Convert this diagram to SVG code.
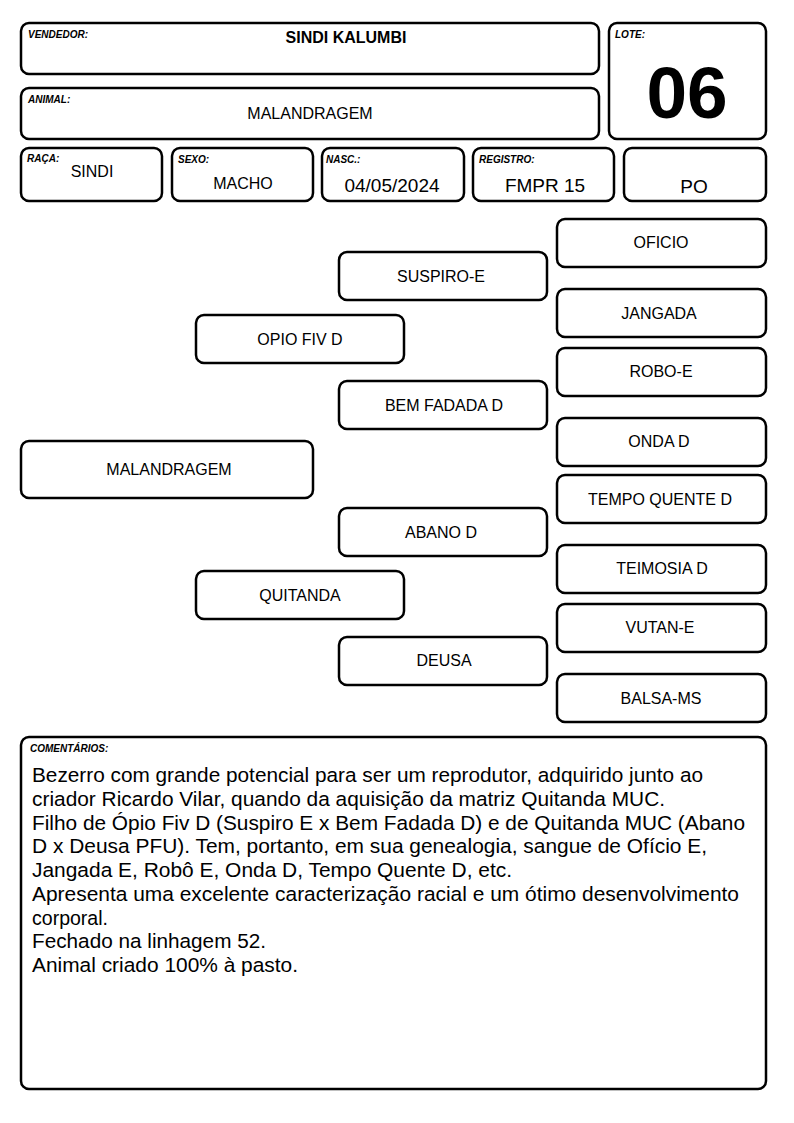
<svg xmlns="http://www.w3.org/2000/svg" width="794" height="1123" viewBox="0 0 794 1123">
<style>
.b{fill:#fff;stroke:#000;stroke-width:2.5}
.lb{font-family:"Liberation Sans",Arial,sans-serif;font-size:10px;font-weight:bold;font-style:italic}
.t{font-family:"Liberation Sans",Arial,sans-serif;font-size:16px;text-anchor:middle}
.m{font-family:"Liberation Sans",Arial,sans-serif;font-size:19px;text-anchor:middle}
.c{font-family:"Liberation Sans",Arial,sans-serif;font-size:20.5px}
</style>
<rect width="794" height="1123" fill="#fff"/>
<g id="vendedor"><rect class="b" x="21" y="23" width="578" height="51" rx="8"/><text class="lb" x="28" y="38">VENDEDOR:</text><text class="t" x="346" y="43" font-weight="bold">SINDI KALUMBI</text></g>
<g id="lote"><rect class="b" x="609" y="23" width="157" height="116" rx="8"/><text class="lb" x="615" y="38">LOTE:</text><text x="687" y="118" font-family="Liberation Sans,Arial,sans-serif" font-size="73" font-weight="bold" text-anchor="middle">06</text></g>
<g id="animal"><rect class="b" x="21" y="88" width="578" height="51" rx="8"/><text class="lb" x="28" y="103">ANIMAL:</text><text class="t" x="310" y="119">MALANDRAGEM</text></g>
<g id="raca"><rect class="b" x="21" y="148" width="141" height="53" rx="8"/><text class="lb" x="27" y="162">RAÇA:</text><text class="t" x="92" y="177" font-size="14">SINDI</text></g>
<g id="sexo"><rect class="b" x="172" y="148" width="141" height="53" rx="8"/><text class="lb" x="178" y="163">SEXO:</text><text class="t" x="243" y="189" font-size="14">MACHO</text></g>
<g id="nasc"><rect class="b" x="322" y="148" width="142" height="53" rx="8"/><text class="lb" x="326" y="163">NASC.:</text><text class="m" x="392" y="192">04/05/2024</text></g>
<g id="registro"><rect class="b" x="473" y="148" width="141" height="53" rx="8"/><text class="lb" x="479" y="163">REGISTRO:</text><text class="m" x="545" y="192">FMPR 15</text></g>
<g id="po"><rect class="b" x="624" y="148" width="142" height="53" rx="8"/><text class="m" x="694" y="193">PO</text></g>

<g id="n-malandragem"><rect class="b" x="21" y="441" width="292" height="57" rx="8"/><text class="t" x="169" y="475">MALANDRAGEM</text></g>
<g id="n-opio"><rect class="b" x="196" y="315" width="208" height="48" rx="8"/><text class="t" x="300" y="345">OPIO FIV D</text></g>
<g id="n-quitanda"><rect class="b" x="196" y="571" width="208" height="48" rx="8"/><text class="t" x="300" y="601">QUITANDA</text></g>
<g id="n-suspiro"><rect class="b" x="339" y="252" width="208" height="48" rx="8"/><text class="t" x="441" y="282">SUSPIRO-E</text></g>
<g id="n-bemfadada"><rect class="b" x="339" y="381" width="208" height="48" rx="8"/><text class="t" x="444" y="411">BEM FADADA D</text></g>
<g id="n-abano"><rect class="b" x="339" y="508" width="208" height="48" rx="8"/><text class="t" x="441" y="538">ABANO D</text></g>
<g id="n-deusa"><rect class="b" x="339" y="637" width="208" height="48" rx="8"/><text class="t" x="444" y="666">DEUSA</text></g>
<g id="n-oficio"><rect class="b" x="557" y="219" width="209" height="48" rx="8"/><text class="t" x="661" y="248">OFICIO</text></g>
<g id="n-jangada"><rect class="b" x="557" y="289" width="209" height="48" rx="8"/><text class="t" x="659" y="319">JANGADA</text></g>
<g id="n-robo"><rect class="b" x="557" y="348" width="209" height="48" rx="8"/><text class="t" x="661" y="377">ROBO-E</text></g>
<g id="n-onda"><rect class="b" x="557" y="418" width="209" height="48" rx="8"/><text class="t" x="659" y="447">ONDA D</text></g>
<g id="n-tempo"><rect class="b" x="557" y="475" width="209" height="48" rx="8"/><text class="t" x="660" y="505">TEMPO QUENTE D</text></g>
<g id="n-teimosia"><rect class="b" x="557" y="545" width="209" height="48" rx="8"/><text class="t" x="662" y="574">TEIMOSIA D</text></g>
<g id="n-vutan"><rect class="b" x="557" y="604" width="209" height="48" rx="8"/><text class="t" x="660" y="633">VUTAN-E</text></g>
<g id="n-balsa"><rect class="b" x="557" y="674" width="209" height="48" rx="8"/><text class="t" x="661" y="704">BALSA-MS</text></g>
<g id="connectors"></g>

<g id="comentarios"><rect class="b" x="21" y="737" width="745" height="352" rx="8"/><text class="lb" x="30" y="752">COMENTÁRIOS:</text>
<text class="c" x="32" y="782" textLength="671" lengthAdjust="spacingAndGlyphs">Bezerro com grande potencial para ser um reprodutor, adquirido junto ao</text>
<text class="c" x="32" y="806" textLength="633" lengthAdjust="spacingAndGlyphs">criador Ricardo Vilar, quando da aquisição da matriz Quitanda MUC.</text>
<text class="c" x="32" y="830" textLength="713" lengthAdjust="spacingAndGlyphs">Filho de Ópio Fiv D (Suspiro E x Bem Fadada D) e de Quitanda MUC (Abano</text>
<text class="c" x="32" y="853" textLength="675" lengthAdjust="spacingAndGlyphs">D x Deusa PFU). Tem, portanto, em sua genealogia, sangue de Ofício E,</text>
<text class="c" x="32" y="877" textLength="480" lengthAdjust="spacingAndGlyphs">Jangada E, Robô E, Onda D, Tempo Quente D, etc.</text>
<text class="c" x="32" y="901" textLength="707" lengthAdjust="spacingAndGlyphs">Apresenta uma excelente caracterização racial e um ótimo desenvolvimento</text>
<text class="c" x="32" y="925" textLength="76" lengthAdjust="spacingAndGlyphs">corporal.</text>
<text class="c" x="32" y="948" textLength="234" lengthAdjust="spacingAndGlyphs">Fechado na linhagem 52.</text>
<text class="c" x="32" y="972" textLength="266" lengthAdjust="spacingAndGlyphs">Animal criado 100% à pasto.</text>
</g>
</svg>
